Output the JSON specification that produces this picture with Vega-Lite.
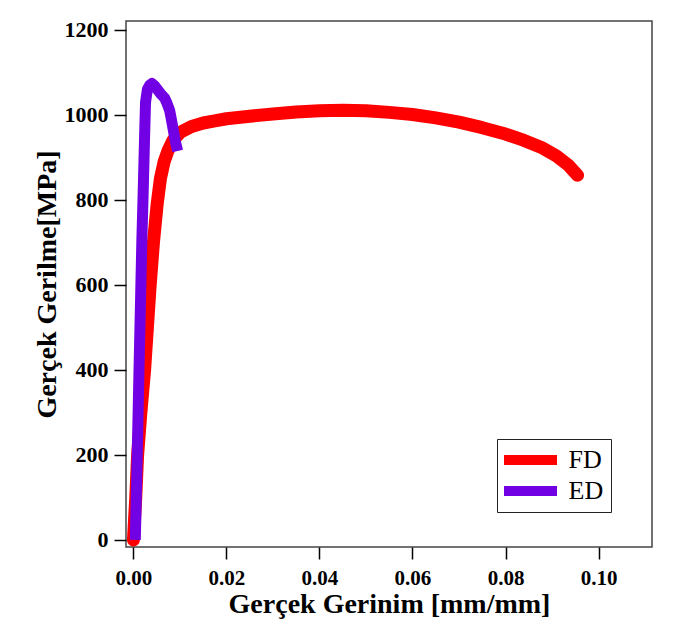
{
  "$schema": "https://vega.github.io/schema/vega-lite/v6.json",
  "autosize": {"type": "none"},
  "width": 526,
  "height": 526,
  "padding": {"left": 126, "top": 21, "right": 39, "bottom": 83},
  "background": "white",
  "config": {
    "view": {"stroke": "#444", "strokeWidth": 1.5},
    "font": "Liberation Serif",
    "axis": {
      "domain": false,
      "grid": false,
      "tickColor": "black",
      "tickWidth": 1.5,
      "labelFont": "Liberation Serif",
      "labelFontWeight": "bold",
      "labelColor": "black",
      "titleFont": "Liberation Serif",
      "titleFontWeight": "bold",
      "titleColor": "black"
    },
    "legend": {
      "orient": "none",
      "legendX": 371,
      "legendY": 418,
      "strokeColor": "#222",
      "fillColor": "white",
      "padding": 7,
      "symbolType": "M-2.65,0H2.65",
      "symbolStrokeWidth": 10,
      "symbolSize": 400,
      "symbolOffset": 11.5,
      "clipHeight": 28,
      "labelFont": "Liberation Serif",
      "labelFontSize": 26,
      "labelColor": "black",
      "labelOffset": 23,
      "rowPadding": 3
    }
  },
  "data": {
    "values": [
      {"series": "FD", "strain": 0.0, "stress": 0},
      {"series": "FD", "strain": 0.0005, "stress": 100},
      {"series": "FD", "strain": 0.0009, "stress": 200},
      {"series": "FD", "strain": 0.0016, "stress": 300},
      {"series": "FD", "strain": 0.0024, "stress": 400},
      {"series": "FD", "strain": 0.003, "stress": 500},
      {"series": "FD", "strain": 0.0036, "stress": 600},
      {"series": "FD", "strain": 0.0043, "stress": 700},
      {"series": "FD", "strain": 0.0051, "stress": 790},
      {"series": "FD", "strain": 0.0058, "stress": 850},
      {"series": "FD", "strain": 0.0066, "stress": 890},
      {"series": "FD", "strain": 0.0074, "stress": 915},
      {"series": "FD", "strain": 0.0085, "stress": 940},
      {"series": "FD", "strain": 0.0102, "stress": 960},
      {"series": "FD", "strain": 0.0125, "stress": 973},
      {"series": "FD", "strain": 0.015, "stress": 981},
      {"series": "FD", "strain": 0.0175, "stress": 986},
      {"series": "FD", "strain": 0.02, "stress": 991},
      {"series": "FD", "strain": 0.025, "stress": 997},
      {"series": "FD", "strain": 0.03, "stress": 1002},
      {"series": "FD", "strain": 0.035, "stress": 1007},
      {"series": "FD", "strain": 0.04, "stress": 1010},
      {"series": "FD", "strain": 0.045, "stress": 1011},
      {"series": "FD", "strain": 0.05, "stress": 1010},
      {"series": "FD", "strain": 0.055, "stress": 1006},
      {"series": "FD", "strain": 0.06, "stress": 1001},
      {"series": "FD", "strain": 0.065, "stress": 993},
      {"series": "FD", "strain": 0.07, "stress": 983},
      {"series": "FD", "strain": 0.075, "stress": 970},
      {"series": "FD", "strain": 0.08, "stress": 955},
      {"series": "FD", "strain": 0.084, "stress": 940},
      {"series": "FD", "strain": 0.088, "stress": 922},
      {"series": "FD", "strain": 0.091, "stress": 903},
      {"series": "FD", "strain": 0.0935, "stress": 882},
      {"series": "FD", "strain": 0.0955, "stress": 858},
      {"series": "ED", "strain": 0.0004, "stress": 0},
      {"series": "ED", "strain": 0.0007, "stress": 140},
      {"series": "ED", "strain": 0.0011, "stress": 350},
      {"series": "ED", "strain": 0.0015, "stress": 550},
      {"series": "ED", "strain": 0.0018, "stress": 700},
      {"series": "ED", "strain": 0.0021, "stress": 820},
      {"series": "ED", "strain": 0.0024, "stress": 950},
      {"series": "ED", "strain": 0.0026, "stress": 1030},
      {"series": "ED", "strain": 0.003, "stress": 1060},
      {"series": "ED", "strain": 0.0035, "stress": 1070},
      {"series": "ED", "strain": 0.004, "stress": 1074},
      {"series": "ED", "strain": 0.0046, "stress": 1068},
      {"series": "ED", "strain": 0.0053, "stress": 1058},
      {"series": "ED", "strain": 0.006, "stress": 1048},
      {"series": "ED", "strain": 0.0067, "stress": 1040},
      {"series": "ED", "strain": 0.0072, "stress": 1028},
      {"series": "ED", "strain": 0.0078, "stress": 1010},
      {"series": "ED", "strain": 0.0084, "stress": 975},
      {"series": "ED", "strain": 0.009, "stress": 938},
      {"series": "ED", "strain": 0.0095, "stress": 915}
    ]
  },
  "encoding": {
    "x": {
      "field": "strain",
      "type": "quantitative",
      "scale": {"domain": [-0.0016, 0.1115], "nice": false, "zero": false},
      "axis": {
        "title": "Gerçek Gerinim [mm/mm]",
        "values": [0, 0.02, 0.04, 0.06, 0.08, 0.1],
        "format": ".2f",
        "tickSize": 12,
        "labelFontSize": 21,
        "labelPadding": 8,
        "titleFontSize": 28,
        "titlePadding": 2
      }
    },
    "y": {
      "field": "stress",
      "type": "quantitative",
      "scale": {"domain": [-16.5, 1221], "nice": false, "zero": false},
      "axis": {
        "title": "Gerçek Gerilme[MPa]",
        "values": [0, 200, 400, 600, 800, 1000, 1200],
        "format": "d",
        "tickSize": 12,
        "labelFontSize": 22,
        "labelPadding": 6,
        "titleFontSize": 28,
        "titlePadding": 3
      }
    },
    "color": {
      "field": "series",
      "type": "nominal",
      "scale": {"domain": ["FD", "ED"], "range": ["#FF0000", "#7200E4"]},
      "legend": {"title": null}
    }
  },
  "layer": [
    {
      "transform": [{"filter": "datum.series === 'FD'"}],
      "mark": {"type": "line", "strokeWidth": 13, "strokeJoin": "round", "strokeCap": "round"}
    },
    {
      "transform": [{"filter": "datum.series === 'ED'"}],
      "mark": {"type": "line", "strokeWidth": 11, "strokeJoin": "round", "strokeCap": "butt"}
    }
  ]
}
